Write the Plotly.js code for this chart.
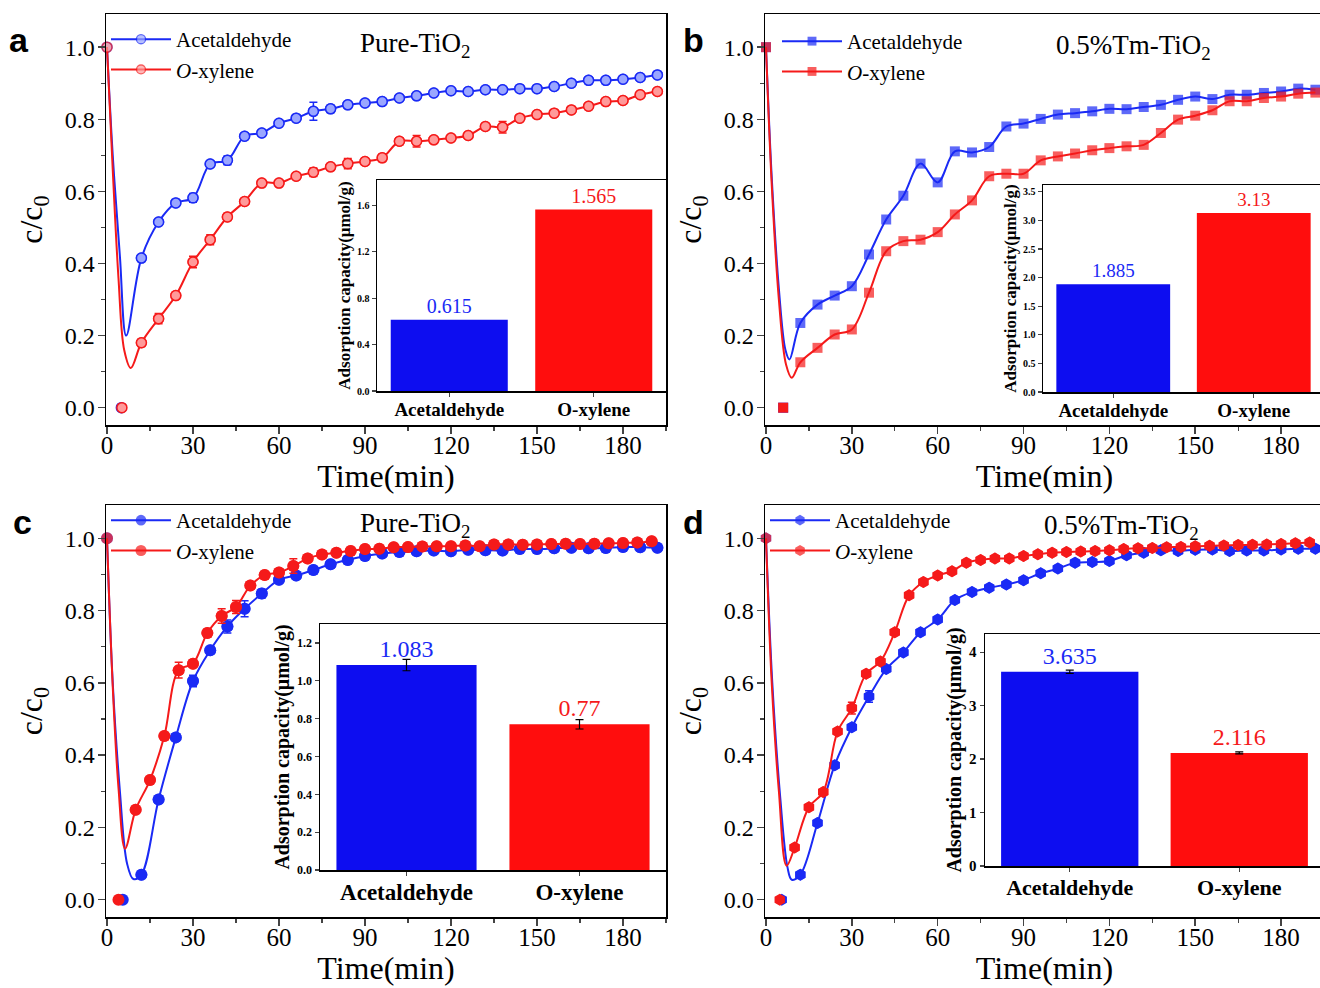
<!DOCTYPE html>
<html><head><meta charset="utf-8">
<script src="https://cdn.plot.ly/plotly-3.0.1.min.js"></script>
<style>html,body{margin:0;padding:0;overflow:hidden;background:#fff}#chart{width:1328px;height:988px}</style>
</head><body><div id="chart"></div><script>
// ---------------- DATA ----------------
const timeTicks = [0, 30, 60, 90, 120, 150, 180];
const insetCats = ['Acetaldehyde', 'O-xylene'];
const seriesNames = ['Acetaldehyde', '<i>O</i>-xylene'];
const panelTitles = ['Pure-TiO<sub>2</sub>', '0.5%Tm-TiO<sub>2</sub>', 'Pure-TiO<sub>2</sub>', '0.5%Tm-TiO<sub>2</sub>'];
const panelLetters = ['a', 'b', 'c', 'd'];

// sampling times (min)
const t6 = [12,18,24,30,36,42,48,54,60,66,72,78,84,90,96,102,108,114,120,126,132,138,144,150,156,162,168,174,180,186,192];
const t5 = [10,15,20,25,30,35,40,45,50,55,60,65,70,75,80,85,90,95,100,105,110,115,120,125,130,135,140,145,150,155,160,165,170,175,180,185,190];

// Panel a : Pure-TiO2
const aAcetY = [0.415,0.515,0.568,0.582,0.676,0.686,0.753,0.762,0.789,0.803,0.822,0.829,0.840,0.845,0.849,0.859,0.865,0.873,0.879,0.877,0.882,0.882,0.885,0.885,0.891,0.900,0.908,0.908,0.911,0.916,0.923];
const aAcetErr = [0,0,0.008,0.012,0.008,0.012,0.008,0.008,0.008,0.008,0.025,0.01,0.008,0.008,0.006,0.006,0.006,0.006,0.006,0.006,0.006,0.006,0.006,0.006,0.006,0.006,0.006,0.006,0.006,0.006,0.006];
const aXylY = [0.180,0.247,0.311,0.404,0.466,0.529,0.572,0.623,0.623,0.642,0.653,0.668,0.677,0.683,0.693,0.739,0.739,0.743,0.748,0.755,0.780,0.778,0.803,0.813,0.817,0.826,0.836,0.849,0.852,0.868,0.877];
const aXylErr = [0.01,0.014,0.01,0.016,0.014,0.01,0.008,0.008,0.006,0.006,0.012,0.008,0.014,0.008,0.01,0.01,0.016,0.008,0.008,0.006,0.008,0.016,0.008,0.006,0.006,0.006,0.006,0.006,0.006,0.006,0.006];
const aAcetDipT = [2, 4.5, 6.7], aAcetDipY = [0.70, 0.42, 0.20];
const aXylDipT = [2, 4, 6, 8.3], aXylDipY = [0.66, 0.36, 0.16, 0.11];
const aZeroT = [5, 5.2], aZeroY = [0, 0];
const aCapacity = [0.615, 1.565];

// Panel b : 0.5%Tm-TiO2
const bAcetY = [0.235,0.286,0.311,0.337,0.425,0.522,0.588,0.677,0.625,0.711,0.708,0.723,0.780,0.788,0.801,0.813,0.817,0.822,0.829,0.828,0.834,0.840,0.854,0.863,0.856,0.868,0.868,0.873,0.877,0.885,0.882];
const bXylY = [0.126,0.166,0.203,0.217,0.319,0.434,0.462,0.466,0.487,0.536,0.575,0.642,0.649,0.649,0.686,0.697,0.705,0.714,0.720,0.725,0.729,0.762,0.799,0.810,0.825,0.850,0.850,0.859,0.863,0.871,0.874];
const bAcetDipT = [2, 4.5, 6.8, 8.2], bAcetDipY = [0.64, 0.33, 0.16, 0.134];
const bXylDipT = [2, 4.5, 7, 9], bXylDipY = [0.62, 0.30, 0.12, 0.083];
const bZeroT = [6, 6], bZeroY = [0, 0];
const bCapacity = [1.885, 3.13];

// Panel c : Pure-TiO2
const cAcetY = [0.069,0.277,0.449,0.605,0.690,0.756,0.805,0.847,0.885,0.897,0.912,0.928,0.940,0.951,0.958,0.962,0.964,0.966,0.964,0.968,0.967,0.966,0.970,0.970,0.972,0.974,0.972,0.973,0.976,0.975,0.974];
const cAcetErr = [0,0,0.008,0.016,0.01,0.018,0.022,0.012,0.008,0.005,0.005,0.005,0.005,0.005,0.005,0.005,0.005,0.005,0.005,0.005,0.005,0.005,0.005,0.005,0.005,0.005,0.005,0.005,0.005,0.005,0.005];
const cXylY = [0.249,0.331,0.453,0.635,0.653,0.738,0.785,0.810,0.869,0.898,0.905,0.923,0.944,0.955,0.960,0.965,0.970,0.971,0.975,0.976,0.977,0.978,0.978,0.980,0.978,0.983,0.983,0.982,0.983,0.984,0.985,0.984,0.985,0.986,0.987,0.988,0.992];
const cXylErr = [0,0,0,0.022,0.01,0.01,0.02,0.018,0.008,0.008,0.01,0.02,0.006,0.005,0.005,0.005,0.005,0.005,0.005,0.005,0.005,0.005,0.005,0.005,0.005,0.005,0.005,0.005,0.005,0.005,0.005,0.005,0.005,0.005,0.005,0.005,0.005];
const cAcetDipT = [2, 4.5, 7, 9.2], cAcetDipY = [0.60, 0.30, 0.10, 0.057];
const cXylDipT = [2, 4, 6.3], cXylDipY = [0.59, 0.31, 0.141];
const cZeroT = [5.5, 4], cZeroY = [0, 0];
const cCapacity = [1.083, 0.77], cCapErr = [0.03, 0.025];

// Panel d : 0.5%Tm-TiO2
const dAcetY = [0.069,0.212,0.372,0.477,0.562,0.638,0.684,0.740,0.775,0.829,0.851,0.863,0.872,0.884,0.903,0.916,0.932,0.934,0.937,0.953,0.960,0.967,0.965,0.968,0.969,0.965,0.966,0.966,0.969,0.971,0.971];
const dAcetErr = [0,0,0,0.008,0.016,0.006,0.006,0.006,0.006,0.005,0.005,0.005,0.005,0.005,0.005,0.005,0.005,0.005,0.005,0.005,0.005,0.005,0.005,0.005,0.005,0.005,0.005,0.005,0.005,0.005,0.005];
const dXylY = [0.144,0.256,0.298,0.465,0.530,0.625,0.659,0.740,0.842,0.879,0.897,0.909,0.932,0.940,0.944,0.944,0.951,0.956,0.960,0.962,0.963,0.965,0.967,0.970,0.972,0.973,0.975,0.976,0.978,0.979,0.980,0.981,0.982,0.983,0.984,0.986,0.988];
const dXylErr = [0,0,0,0.006,0.016,0.008,0.006,0.006,0.005,0.005,0.005,0.005,0.005,0.005,0.005,0.005,0.005,0.005,0.005,0.005,0.005,0.005,0.005,0.005,0.005,0.005,0.005,0.005,0.005,0.005,0.005,0.005,0.005,0.005,0.005,0.005,0.005];
const dAcetDipT = [2.2, 5, 7.5, 9], dAcetDipY = [0.60, 0.28, 0.09, 0.055];
const dXylDipT = [2, 4.5, 7.2], dXylDipY = [0.60, 0.30, 0.094];
const dZeroT = [5.5, 4.8], dZeroY = [0, 0];
const dCapacity = [3.635, 2.116], dCapErr = [0.03, 0.02];

// ---------------- STYLE / LAYOUT HELPERS ----------------
const W = 1328, H = 988;
const SERIF = 'Liberation Serif, Times New Roman, serif';
const BLUE = '#1a2af5', RED = '#f51a1a';
const BARBLUE = '#0d0df0', BARRED = '#ff0d0d';
const xd = (a, b) => [a / W, b / W];
const yd = (top, bot) => [1 - bot / H, 1 - top / H];

function curveTraces(dipT, dipY, t, y, err, o) {
  const xs = [0].concat(dipT, t), ys = [1.0].concat(dipY, y);
  const sizes = [o.size].concat(dipT.map(() => 0), t.map(() => o.size));
  const lws = [o.mlw].concat(dipT.map(() => 0), t.map(() => o.mlw));
  const out = [{
    type: 'scatter', mode: 'lines+markers', x: xs, y: ys, name: o.name,
    xaxis: o.xa, yaxis: o.ya, legend: o.leg, cliponaxis: false, hoverinfo: 'skip',
    line: {color: o.color, width: 2, shape: 'spline', smoothing: 1},
    marker: {symbol: o.symbol, size: sizes, color: o.fill, line: {color: o.color, width: lws}}
  }];
  if (err) {
    out.push({type: 'scatter', mode: 'markers', x: t, y: y, xaxis: o.xa, yaxis: o.ya, showlegend: false, cliponaxis: false, hoverinfo: 'skip',
      marker: {symbol: o.symbol, size: o.size, color: o.fill, line: {color: o.color, width: o.mlw}},
      error_y: {type: 'data', array: err, color: o.color, thickness: 1.5, width: 4}});
  }
  return out;
}
function zeroTrace(t, y, o) {
  return {type: 'scatter', mode: 'markers', x: [t], y: [y], xaxis: o.xa, yaxis: o.ya, showlegend: false, cliponaxis: false, hoverinfo: 'skip',
    marker: {symbol: o.symbol, size: o.size, color: o.fill, line: {color: o.color, width: o.mlw}}};
}
function barTrace(vals, err, xa, ya, fs) {
  const tr = {type: 'bar', x: insetCats, y: vals, xaxis: xa, yaxis: ya, showlegend: false, hoverinfo: 'skip',
    marker: {color: [BARBLUE, BARRED]}, text: vals.map(String), textposition: 'outside', cliponaxis: false, constraintext: 'none',
    textfont: {family: SERIF, size: fs, color: [BLUE, RED]}};
  if (err) tr.error_y = {type: 'data', array: err, color: '#000', thickness: 1.2, width: 4};
  return tr;
}

const panels = [
  {acet: [aAcetDipT, aAcetDipY, t6, aAcetY, aAcetErr], xyl: [aXylDipT, aXylDipY, t6, aXylY, aXylErr], zero: [aZeroT, aZeroY],
   cap: aCapacity, capErr: null, sym: 'circle', size: 10, mlw: 1.5, fillB: '#9aa6ff', fillR: '#ff9a9a'},
  {acet: [bAcetDipT, bAcetDipY, t6, bAcetY, null], xyl: [bXylDipT, bXylDipY, t6, bXylY, null], zero: [bZeroT, bZeroY],
   cap: bCapacity, capErr: null, sym: 'square', size: 10, mlw: 0, fillB: BLUE, fillR: RED},
  {acet: [cAcetDipT, cAcetDipY, t6, cAcetY, cAcetErr], xyl: [cXylDipT, cXylDipY, t5, cXylY, cXylErr], zero: [cZeroT, cZeroY],
   cap: cCapacity, capErr: cCapErr, sym: 'circle', size: 12, mlw: 0, fillB: BLUE, fillR: RED},
  {acet: [dAcetDipT, dAcetDipY, t6, dAcetY, dAcetErr], xyl: [dXylDipT, dXylDipY, t5, dXylY, dXylErr], zero: [dZeroT, dZeroY],
   cap: dCapacity, capErr: dCapErr, sym: 'hexagon', size: 12, mlw: 0, fillB: BLUE, fillR: RED}
];

const mainBoxes = [[106, 666, 14, 425], [765, 1324, 14, 425], [106, 666, 505, 917], [765, 1324, 505, 917]];
const insetBoxes = [[377, 666, 180, 391], [1043, 1324, 185, 392], [320, 666, 624, 870], [985, 1324, 634, 866]];
// [min, max, dtick, format, tickFont, titleFont, catFont, valueFont]
const insetStyle = [[0, 1.82, 0.4, '.1f', 10, 17, 19, 20], [0, 3.62, 0.5, '.1f', 10, 17, 19, 19], [0, 1.30, 0.2, '.1f', 12, 20, 23, 24], [0, 4.34, 1, 'd', 15, 20, 22, 24]];
const legendPos = [[106, 19], [777, 21], [106, 500], [765, 500]];
const titlePos = [[415, 45], [1133, 47], [415, 525], [1121, 527]];
const letterPos = [[19, 40], [693, 40], [22, 522], [693, 522]];

const data = [];
const layout = {
  width: W, height: H, margin: {l: 0, r: 0, t: 0, b: 0}, paper_bgcolor: '#fff', plot_bgcolor: 'rgba(255,255,255,0)',
  bargap: 0.19, showlegend: true, annotations: [], font: {family: SERIF, color: '#000'}
};

panels.forEach((p, i) => {
  const n1 = 2 * i + 1, n2 = 2 * i + 2;
  const mx = 'x' + (n1 === 1 ? '' : n1), my = 'y' + (n1 === 1 ? '' : n1);
  const ix = 'x' + n2, iy = 'y' + n2;
  const leg = i === 0 ? 'legend' : 'legend' + (i + 1);
  const mb = mainBoxes[i], ib = insetBoxes[i], st = insetStyle[i];
  const oB = {name: seriesNames[0], xa: mx, ya: my, leg, color: BLUE, fill: p.fillB, symbol: p.sym, size: p.size, mlw: p.mlw};
  const oR = {name: seriesNames[1], xa: mx, ya: my, leg, color: RED, fill: p.fillR, symbol: p.sym, size: p.size, mlw: p.mlw};
  data.push(...curveTraces(...p.acet, oB));
  data.push(...curveTraces(...p.xyl, oR));
  data.push(zeroTrace(p.zero[0][0], p.zero[1][0], oB));
  data.push(zeroTrace(p.zero[0][1], p.zero[1][1], oR));
  data.push(barTrace(p.cap, p.capErr, ix, iy, st[7]));

  layout['xaxis' + (n1 === 1 ? '' : n1)] = {domain: xd(mb[0], mb[1]), anchor: my, range: [-0.35, 195], tickvals: timeTicks,
    ticks: 'outside', ticklen: 7, tickwidth: 1.5, showline: true, mirror: true, linewidth: 1.5, linecolor: '#000',
    showgrid: false, zeroline: false, tickfont: {family: SERIF, size: 25}, ticklabelstandoff: -10,
    minor: {ticks: 'outside', ticklen: 4, tickwidth: 1.2, dtick: 15, tick0: 0, showgrid: false},
    title: {text: 'Time(min)', font: {family: SERIF, size: 32}, standoff: 2}};
  layout['yaxis' + (n1 === 1 ? '' : n1)] = {domain: yd(mb[2], mb[3]), anchor: mx, range: [-0.048, 1.092], dtick: 0.2, tick0: 0, tickformat: '.1f',
    ticks: 'outside', ticklen: 7, tickwidth: 1.5, showline: true, mirror: true, linewidth: 1.5, linecolor: '#000',
    showgrid: false, zeroline: false, tickfont: {family: SERIF, size: 24}, ticklabelstandoff: -2,
    minor: {ticks: 'outside', ticklen: 4, tickwidth: 1.2, dtick: 0.1, tick0: 0, showgrid: false},
    title: {text: 'c/c<sub>0</sub>', font: {family: SERIF, size: 32}, standoff: 12}};
  layout['xaxis' + n2] = {domain: xd(ib[0], ib[1]), anchor: iy, type: 'category', range: [-0.5, 1.5],
    ticks: 'outside', ticklen: 4, tickwidth: 1.2, showline: true, mirror: true, linewidth: 1.5, linecolor: '#000',
    showgrid: false, zeroline: false, tickfont: {family: SERIF, size: st[6], weight: 'bold'}, ticklabelstandoff: -3};
  layout['yaxis' + n2] = {domain: yd(ib[2], ib[3]), anchor: ix, range: [st[0], st[1]], dtick: st[2], tick0: 0, tickformat: st[3],
    ticks: 'outside', ticklen: 4, tickwidth: 1.2, showline: true, mirror: true, linewidth: 1.5, linecolor: '#000',
    showgrid: false, zeroline: false, tickfont: {family: SERIF, size: st[4], weight: 'bold'},
    title: {text: 'Adsorption capacity(μmol/g)', font: {family: SERIF, size: st[5], weight: 'bold'}, standoff: 2}};
  layout[leg] = {x: legendPos[i][0] / W, y: 1 - legendPos[i][1] / H, xanchor: 'left', yanchor: 'top',
    bgcolor: 'rgba(0,0,0,0)', borderwidth: 0, font: {family: SERIF, size: 21}, itemwidth: 60, tracegroupgap: 0};
  layout.annotations.push({xref: 'paper', yref: 'paper', x: titlePos[i][0] / W, y: 1 - titlePos[i][1] / H,
    xanchor: 'center', yanchor: 'middle', text: panelTitles[i], showarrow: false, font: {family: SERIF, size: 27}});
  layout.annotations.push({xref: 'paper', yref: 'paper', x: letterPos[i][0] / W, y: 1 - letterPos[i][1] / H,
    xanchor: 'center', yanchor: 'middle', text: '<b>' + panelLetters[i] + '</b>', showarrow: false,
    font: {family: 'Liberation Sans, Arial, sans-serif', size: 34}});
});

Plotly.newPlot('chart', data, layout, {staticPlot: true});
</script></body></html>
